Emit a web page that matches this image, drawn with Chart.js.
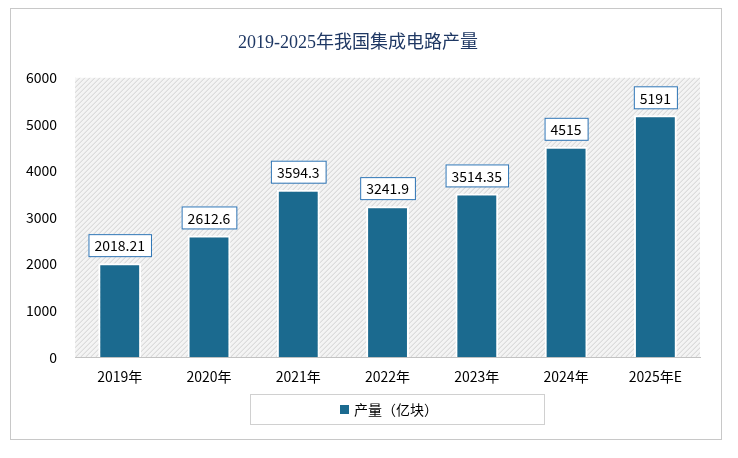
<!DOCTYPE html>
<html><head><meta charset="utf-8">
<script src="https://cdn.jsdelivr.net/npm/chart.js@4/dist/chart.umd.min.js"></script>
<style>
html,body{margin:0;padding:0;background:#fff;}
#wrap{position:absolute;left:10px;top:8px;width:712px;height:432px;border:1px solid #c8c8c8;box-sizing:border-box;}
canvas{position:absolute;left:0;top:0;}
</style></head><body>
<div id="wrap"></div>
<canvas id="c" width="738" height="458"></canvas>
<script>
const categories=["2019年","2020年","2021年","2022年","2023年","2024年","2025年E"];
const values=[2018.21,2612.6,3594.3,3241.9,3514.35,4515,5191];
const labels=["2018.21","2612.6","3594.3","3241.9","3514.35","4515","5191"];
const seriesName="产量（亿块）";
const FONT="'Noto Sans CJK SC','Noto Sans',sans-serif";
const SERIF="'Liberation Serif','Noto Sans CJK SC',serif";

const hatch={id:'hatch',beforeDatasetsDraw(ch){
  const {ctx,chartArea:a}=ch;ctx.save();
  ctx.beginPath();ctx.rect(a.left,a.top,a.right-a.left,a.bottom-a.top);ctx.clip();
  ctx.fillStyle='#f4f4f4';ctx.fillRect(a.left,a.top,a.right-a.left,a.bottom-a.top);
  ctx.strokeStyle='#d0d0d0';ctx.lineWidth=1;
  for(let x=a.left-(a.bottom-a.top);x<a.right;x+=5){ctx.beginPath();ctx.moveTo(x,a.bottom);ctx.lineTo(x+(a.bottom-a.top),a.top);ctx.stroke();}
  ctx.restore();}};
const boxes={id:'boxes',afterDatasetsDraw(ch){
  const {ctx}=ch;const m=ch.getDatasetMeta(0);ctx.save();
  ctx.font="14px "+FONT;ctx.textAlign='center';ctx.textBaseline='middle';
  m.data.forEach((b,i)=>{const t=labels[i];const w=ctx.measureText(t).width+12,h=22;
    const x=b.x-w/2,y=b.y-h-7;
    ctx.fillStyle='#fff';ctx.fillRect(x,y,w,h);ctx.strokeStyle='#2e75b6';ctx.lineWidth=1;ctx.strokeRect(x+.5,y+.5,w,h);
    ctx.fillStyle='#000';ctx.fillText(t,b.x,y+h/2+1);});
  ctx.restore();}};
const legendBox={id:'legendBox',afterDraw(ch){const {ctx}=ch;ctx.save();
  ctx.strokeStyle='#d0d0d0';ctx.strokeRect(250.5,394.5,294,30);
  ctx.fillStyle='#1b6a8f';ctx.fillRect(340,405,9,9);
  ctx.fillStyle='#000';ctx.font="14px "+FONT;ctx.textBaseline='middle';ctx.fillText(seriesName,354,410);ctx.restore();}};

new Chart(document.getElementById('c'),{type:'bar',
 data:{labels:categories,datasets:[{label:seriesName,data:values,backgroundColor:'#1b6a8f',borderColor:'#ffffff',borderWidth:{left:2,right:2,top:2,bottom:0},barPercentage:0.48,categoryPercentage:1}]},
 options:{responsive:false,animation:false,
  layout:{padding:{left:16,right:38,top:28,bottom:70}},
  plugins:{legend:{display:false},tooltip:{enabled:false},
   title:{display:true,text:'2019-2025年我国集成电路产量',color:'#1f3864',font:{family:SERIF,size:18,weight:'normal'},padding:{top:4,bottom:24}}},
  scales:{x:{grid:{display:false},border:{color:'#bfbfbf'},ticks:{color:'#000',font:{family:FONT,size:14}}},
   y:{min:0,max:6000,ticks:{stepSize:1000,color:'#000',font:{family:FONT,size:14},padding:10,callback:v=>String(v)},grid:{display:false},border:{display:false}}}},
 plugins:[hatch,boxes,legendBox]});
</script></body></html>
